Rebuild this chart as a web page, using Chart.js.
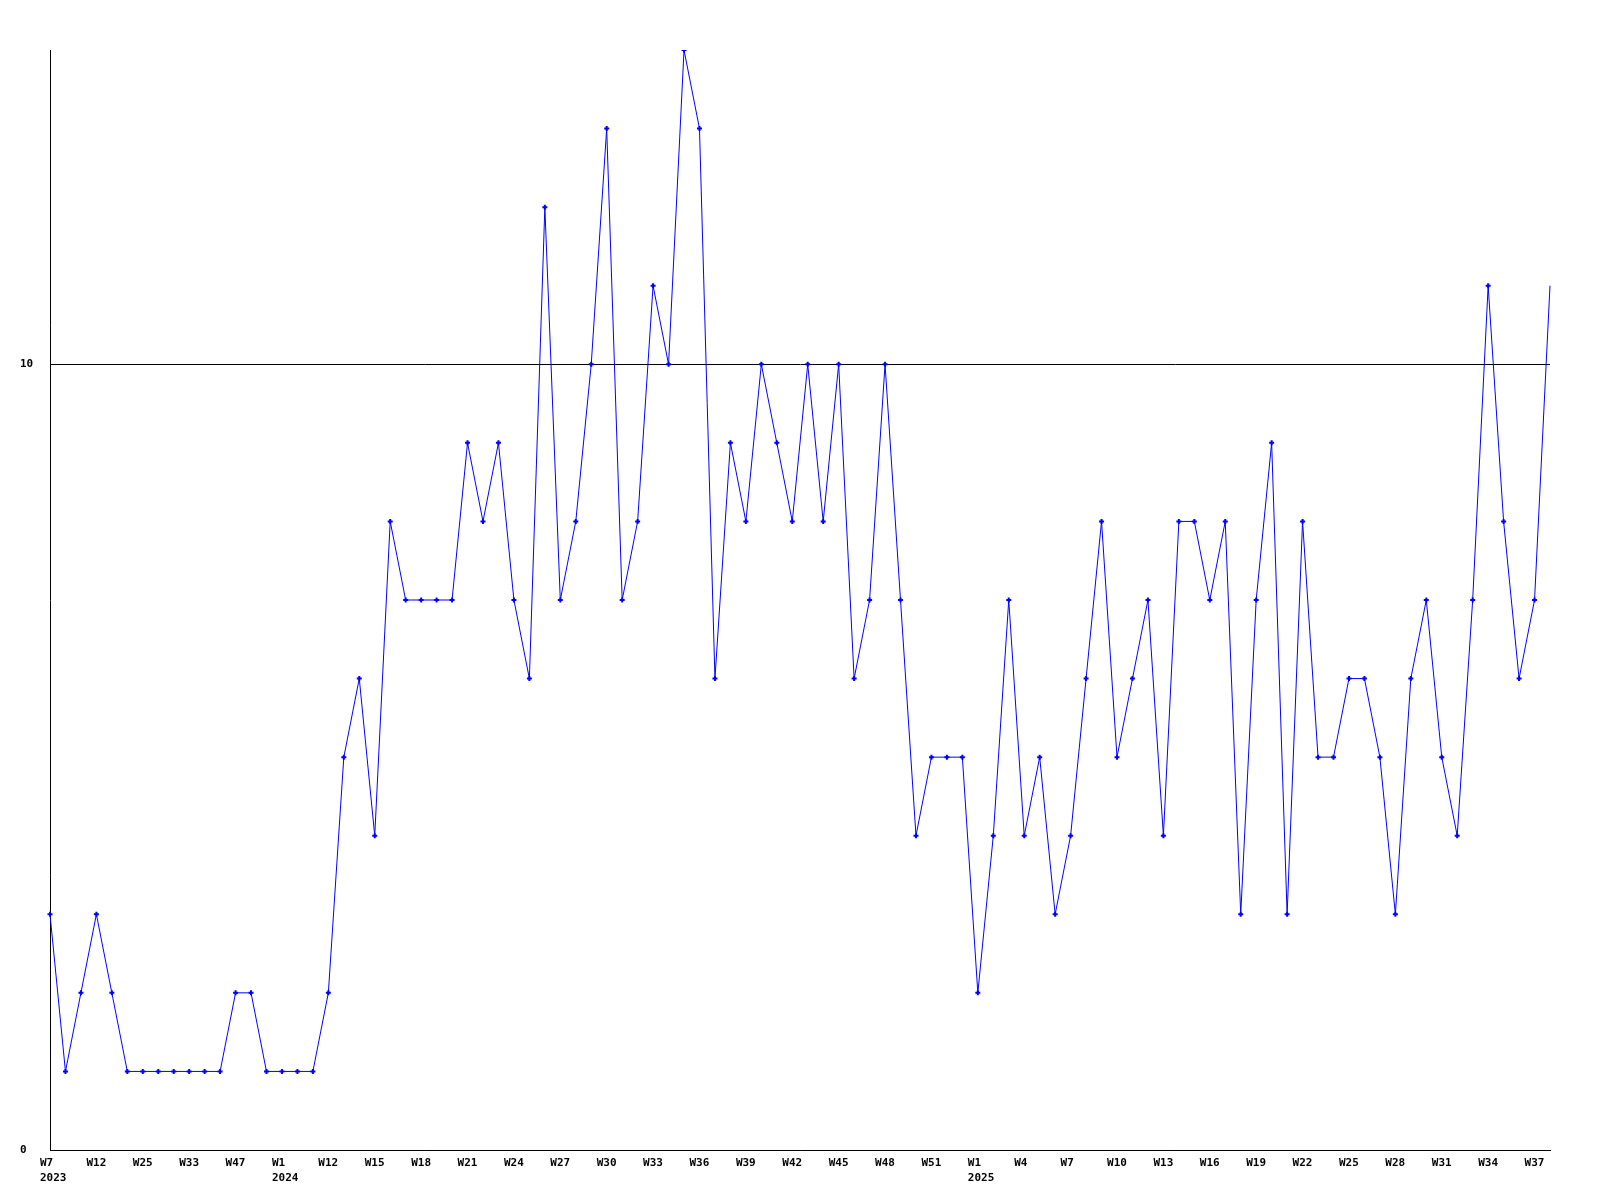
<!DOCTYPE html>
<html>
<head>
<meta charset="utf-8">
<script src="https://cdn.jsdelivr.net/npm/chart.js@4/dist/chart.umd.min.js"></script>
<style>
  html, body { margin: 0; padding: 0; background: #fff; }
  #box { width: 1600px; height: 1200px; }
</style>
</head>
<body>
<div id="box"><canvas id="weeklyChart"></canvas></div>
<script>
// weekly counts, one per point
const weeklyValues = [
  3, 1, 2, 3, 2, 1, 1, 1, 1, 1, 1, 1, 2, 2, 1, 1, 1, 1, 2, 5,
  6, 4, 8, 7, 7, 7, 7, 9, 8, 9, 7, 6, 12, 7, 8, 10, 13, 7, 8, 11,
  10, 14, 13, 6, 9, 8, 10, 9, 8, 10, 8, 10, 6, 7, 10, 7, 4, 5, 5, 5,
  2, 4, 7, 4, 5, 3, 4, 6, 8, 5, 6, 7, 4, 8, 8, 7, 8, 3, 7, 9,
  3, 8, 5, 5, 6, 6, 5, 3, 6, 7, 5, 4, 7, 11, 8, 6, 7, 11
];

// labels shown on every third point
const shownLabels = [
  ['W7', '2023'], 'W12', 'W25', 'W33', 'W47', ['W1', '2024'], 'W12', 'W15', 'W18', 'W21', 'W24',
  'W27', 'W30', 'W33', 'W36', 'W39', 'W42', 'W45', 'W48', 'W51', ['W1', '2025'], 'W4',
  'W7', 'W10', 'W13', 'W16', 'W19', 'W22', 'W25', 'W28', 'W31', 'W34', 'W37'
];
const labelStep = 3;
const yTickValues = [0, 10];

const categories = weeklyValues.map((v, i) => (i % labelStep === 0 ? shownLabels[i / labelStep] : ''));
const lastIndex = weeklyValues.length - 1;

const tickFont = { family: '"DejaVu Sans Mono", monospace', size: 11, weight: 'bold', lineHeight: 1.36 };

new Chart(document.getElementById('weeklyChart'), {
  type: 'line',
  data: {
    labels: categories,
    datasets: [{
      data: weeklyValues,
      borderColor: '#0000ff',
      backgroundColor: '#0000ff',
      borderWidth: 1,
      pointStyle: 'cross',
      // the last (current) week has no marker in the original
      pointRadius: ctx => (ctx.dataIndex === lastIndex ? 0 : 2.5),
      pointBorderWidth: 2,
      tension: 0,
      fill: false
    }]
  },
  options: {
    responsive: true,
    maintainAspectRatio: false,
    animation: false,
    layout: { padding: { left: 20, top: 50, right: 50, bottom: 0 } },
    plugins: {
      legend: { display: false },
      tooltip: { enabled: false }
    },
    scales: {
      x: {
        offset: false,
        grid: { display: false, drawTicks: false },
        border: { display: true, color: '#000', width: 1 },
        ticks: {
          autoSkip: false,
          maxRotation: 0,
          minRotation: 0,
          align: 'start',
          labelOffset: -10,
          padding: 6,
          color: '#000',
          font: tickFont
        },
        afterFit: scale => { scale.height = 50; }
      },
      y: {
        min: 0,
        max: 14,
        afterBuildTicks: scale => { scale.ticks = yTickValues.map(v => ({ value: v })); },
        grid: { drawTicks: false, color: '#000', lineWidth: 1 },
        border: { display: true, color: '#000', width: 1 },
        ticks: {
          crossAlign: 'far',
          padding: 0,
          color: '#000',
          font: tickFont
        },
        afterFit: scale => { scale.width = 30; }
      }
    }
  }
});
</script>
</body>
</html>
